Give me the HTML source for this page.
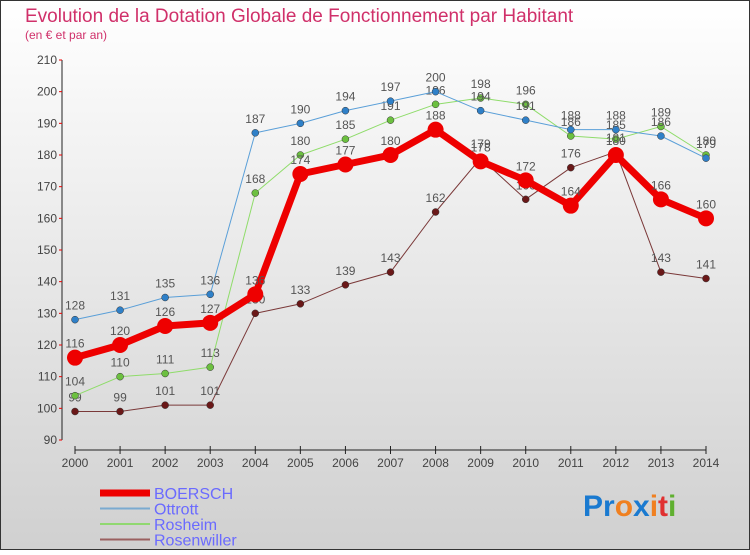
<!DOCTYPE html>
<html><head><meta charset="utf-8"><style>
body{margin:0}
#c{width:750px;height:550px;position:relative;font-family:"Liberation Sans",sans-serif;}
</style></head><body>
<div id="c">
<svg id="s" width="750" height="550" xmlns="http://www.w3.org/2000/svg">
<defs><linearGradient id="bg" x1="0" y1="0" x2="0" y2="1"><stop offset="0" stop-color="#ffffff"/><stop offset="1" stop-color="#d0d0d0"/></linearGradient></defs>
<rect x="0.5" y="0.5" width="749" height="549" fill="url(#bg)" stroke="#333"/>
<text x="25" y="22" font-size="19" fill="#d0306a">Evolution de la Dotation Globale de Fonctionnement par Habitant</text>
<text x="25" y="39" font-size="12" fill="#d0306a">(en € et par an)</text>
<g id="axes"></g><g id="series"></g><g id="legend"></g>
<text x="583" y="516" font-size="30" font-weight="bold"><tspan fill="#1a7ad0">Pr</tspan><tspan fill="#f08020">o</tspan><tspan fill="#1a7ad0">x</tspan><tspan fill="#f08020">i</tspan><tspan fill="#e03030">t</tspan><tspan fill="#60b030">i</tspan></text>
</svg></div>
<script>
const years=[2000,2001,2002,2003,2004,2005,2006,2007,2008,2009,2010,2011,2012,2013,2014];
const yTicks=[90,100,110,120,130,140,150,160,170,180,190,200,210];
const boersch=[116,120,126,127,136,174,177,180,188,178,172,164,180,166,160];
const ottrott=[128,131,135,136,187,190,194,197,200,194,191,188,188,186,179];
const rosheim=[104,110,111,113,168,180,185,191,196,198,196,186,185,189,180];
const rosenwiller=[99,99,101,101,130,133,139,143,162,179,166,176,181,143,141];
const NS="http://www.w3.org/2000/svg";
function X(i){return 75+i*(706-75)/(years.length-1);}
function Y(v){return 440-(v-90)*(380/120);}
function mk(tag,attrs,parent){const e=document.createElementNS(NS,tag);for(const k in attrs)e.setAttribute(k,attrs[k]);parent.appendChild(e);return e;}
const ax=document.getElementById('axes');
let l=mk('line',{x1:62,y1:60,x2:62,y2:440,stroke:'#222'},ax);


yTicks.forEach(v=>{
 const t=mk('text',{x:57,y:Y(v)+4,'font-size':12,fill:'#444','text-anchor':'end'},ax);t.textContent=v;
 
 
 mk('line',{x1:59,y1:Y(v),x2:62,y2:Y(v),stroke:'#e00'},ax);
});
l=mk('line',{x1:75,y1:450,x2:706,y2:450,stroke:'#222'},ax);


years.forEach((yr,i)=>{
 mk('line',{x1:X(i),y1:446,x2:X(i),y2:454,stroke:'#222'},ax);
 const t=mk('text',{x:X(i),y:467,'font-size':12,fill:'#444','text-anchor':'middle'},ax);t.textContent=yr;
 
 
});
const sg=document.getElementById('series');
const defs=[
 [rosenwiller,'#7a3838','#6a1818',1,3.5,'rosenwiller'],
 [rosheim,'#8fdc6a','#6cc040',1,3.5,'rosheim'],
 [ottrott,'#5a9fd8','#2f80c8',1,3.5,'ottrott'],
 [boersch,'#ee0000','#ee0000',7,8,'boersch']];
defs.forEach(([d,c,mc,w,r,n])=>{
 const g=mk('g',{},sg);
 
 
 const p=mk('polyline',{points:d.map((v,i)=>X(i)+','+Y(v)).join(' '),fill:'none',stroke:c,'stroke-width':w,'stroke-linejoin':'round'},g);
 
 
 d.forEach((v,i)=>{
  const ci=mk('circle',{cx:X(i),cy:Y(v),r:r,fill:mc,stroke:w>1?'none':'#333','stroke-width':0.5},g);
  
  
  const t=mk('text',{x:X(i),y:Y(v)-10,'font-size':12,fill:'#555','text-anchor':'middle'},g);t.textContent=v;
  
  
 });
});
const lg=document.getElementById('legend');
[['BOERSCH','#ee0000',7],['Ottrott','#7aaad0',2],['Rosheim','#90d870',2],['Rosenwiller','#9a6060',2]].forEach(([n,c,w],i)=>{
 const y=493+i*15.5;
 const g=mk('g',{},lg);
 
 
 mk('line',{x1:100,y1:y,x2:150,y2:y,stroke:c,'stroke-width':w},g);
 const t=mk('text',{x:154,y:y+6,'font-size':16,fill:'#6a6aff'},g);t.textContent=n;
});
</script></body></html>
